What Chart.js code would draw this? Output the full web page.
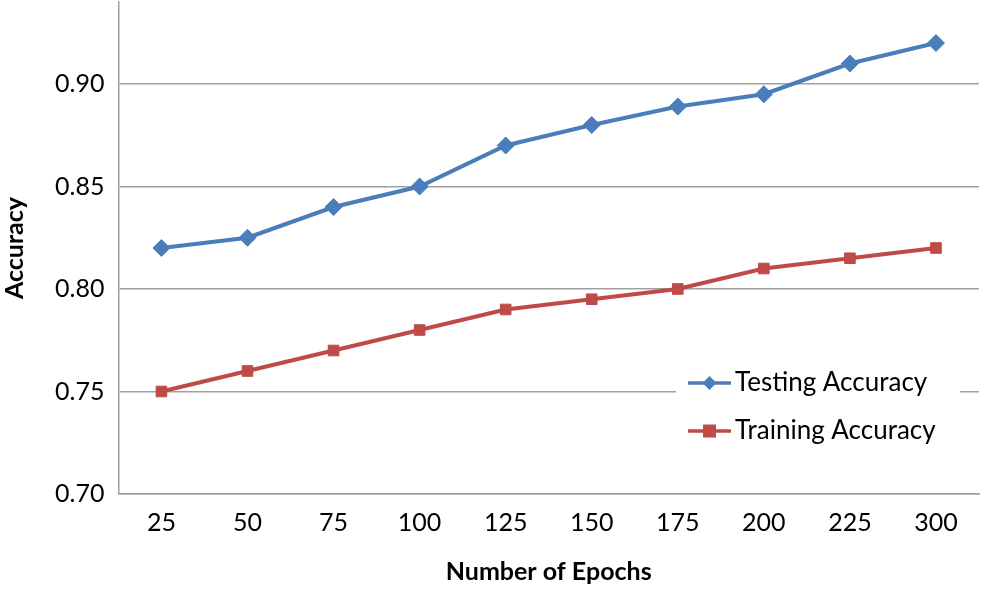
<!DOCTYPE html>
<html>
<head>
<meta charset="utf-8">
<script src="https://cdn.jsdelivr.net/npm/chart.js@4"></script>
<style>
  body { margin: 0; background: #fff; }
  #wrap { width: 982px; height: 591px; }
</style>
</head>
<body>
<div id="wrap"><canvas id="chLine"></canvas></div>
<script>
let epochs = ['25', '50', '75', '100', '125', '150', '175', '200', '225', '300'];
let testingAcc = [0.820, 0.825, 0.840, 0.850, 0.870, 0.880, 0.889, 0.895, 0.910, 0.920];
let trainingAcc = [0.750, 0.760, 0.770, 0.780, 0.790, 0.795, 0.800, 0.810, 0.815, 0.820];

let fontFamily = 'Lato, "Open Sans", sans-serif';
let blue = '#4a7ebb';
let red = '#be4b48';

// legend drawn inside the plot area, like the original
const insideLegend = {
    id: 'insideLegend',
    afterDraw(chart) {
        let ctx = chart.ctx;
        let x0 = 688, y0 = 383, gap = 48;
        ctx.save();
        ctx.fillStyle = '#fff';
        ctx.fillRect(676, 360, 284, 96);
        chart.data.datasets.forEach((ds, i) => {
            let y = y0 + i * gap;
            ctx.strokeStyle = ds.borderColor;
            ctx.lineWidth = 3.5;
            ctx.beginPath();
            ctx.moveTo(x0, y);
            ctx.lineTo(x0 + 43, y);
            ctx.stroke();
            ctx.fillStyle = ds.backgroundColor;
            ctx.beginPath();
            if (ds.pointStyle == 'rectRot') {
                ctx.moveTo(x0 + 21.5, y - 7);
                ctx.lineTo(x0 + 28.5, y);
                ctx.lineTo(x0 + 21.5, y + 7);
                ctx.lineTo(x0 + 14.5, y);
            } else {
                ctx.rect(x0 + 15, y - 6.5, 13, 13);
            }
            ctx.fill();
            ctx.fillStyle = '#000';
            ctx.font = '26px ' + fontFamily;
            ctx.textBaseline = 'middle';
            ctx.fillText(ds.label, x0 + 47, y);
        });
        ctx.restore();
    }
};

new Chart(document.getElementById('chLine'), {
    type: 'line',
    data: {
        labels: epochs,
        datasets: [{
            label: 'Testing Accuracy',
            data: testingAcc,
            borderColor: blue,
            backgroundColor: blue,
            borderWidth: 4,
            pointStyle: 'rectRot',
            pointRadius: 8.5,
            pointBorderWidth: 1,
            tension: 0
        }, {
            label: 'Training Accuracy',
            data: trainingAcc,
            borderColor: red,
            backgroundColor: red,
            borderWidth: 4,
            pointStyle: 'rect',
            pointRadius: 7.5,
            pointBorderWidth: 1,
            tension: 0
        }]
    },
    options: {
        responsive: true,
        maintainAspectRatio: false,
        animation: false,
        layout: { autoPadding: false, padding: { top: 2, right: 3, left: 0, bottom: 4 } },
        plugins: {
            legend: { display: false },
            tooltip: { enabled: false }
        },
        scales: {
            x: {
                offset: true,
                afterFit: (scale) => { scale.paddingLeft = 0; scale.paddingRight = 0; },
                grid: { display: false, drawTicks: false },
                border: { color: '#a0a0a0', width: 1.5 },
                ticks: { color: '#000', font: { family: fontFamily, size: 25 }, padding: 14 },
                title: {
                    display: true,
                    text: 'Number of Epochs',
                    color: '#000',
                    font: { family: fontFamily, size: 25, weight: 'bold' },
                    padding: { top: 5, bottom: 0 }
                }
            },
            y: {
                min: 0.70,
                max: 0.94,
                afterBuildTicks: (scale) => {
                    scale.ticks = scale.ticks.filter(t => Math.abs(t.value * 20 - Math.round(t.value * 20)) < 1e-6);
                },
                afterFit: (scale) => { scale.paddingTop = 0; },
                grid: { color: '#a0a0a0', lineWidth: 1.5, drawTicks: false },
                border: { color: '#a0a0a0', width: 1.5 },
                ticks: {
                    stepSize: 0.05,
                    color: '#000',
                    font: { family: fontFamily, size: 25 },
                    padding: 14,
                    callback: (v) => v.toFixed(2)
                },
                title: {
                    display: true,
                    text: 'Accuracy',
                    color: '#000',
                    font: { family: fontFamily, size: 25, weight: 'bold' },
                    padding: { top: 0, bottom: 11 }
                }
            }
        }
    },
    plugins: [insideLegend]
});
</script>
</body>
</html>
